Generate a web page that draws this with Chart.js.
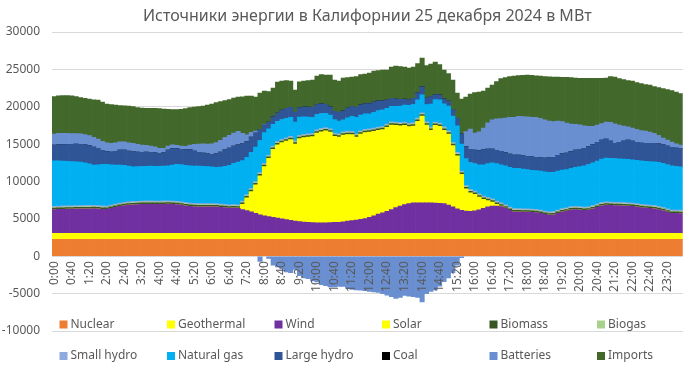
<!DOCTYPE html>
<html><head><meta charset="utf-8">
<script src="https://cdn.jsdelivr.net/npm/chart.js@4"></script>
<style>html,body{margin:0;padding:0;background:#fff}</style>
</head><body>
<canvas id="c" width="700" height="370"></canvas>
<script>
const TITLE = 'Источники энергии в Калифорнии 25 декабря 2024 в МВт';

const timeLabels = [
'0:00','0:10','0:20','0:30','0:40','0:50','1:00','1:10','1:20','1:30','1:40','1:50',
'2:00','2:10','2:20','2:30','2:40','2:50','3:00','3:10','3:20','3:30','3:40','3:50',
'4:00','4:10','4:20','4:30','4:40','4:50','5:00','5:10','5:20','5:30','5:40','5:50',
'6:00','6:10','6:20','6:30','6:40','6:50','7:00','7:10','7:20','7:30','7:40','7:50',
'8:00','8:10','8:20','8:30','8:40','8:50','9:00','9:10','9:20','9:30','9:40','9:50',
'10:00','10:10','10:20','10:30','10:40','10:50','11:00','11:10','11:20','11:30','11:40','11:50',
'12:00','12:10','12:20','12:30','12:40','12:50','13:00','13:10','13:20','13:30','13:40','13:50',
'14:00','14:10','14:20','14:30','14:40','14:50','15:00','15:10','15:20','15:30','15:40','15:50',
'16:00','16:10','16:20','16:30','16:40','16:50','17:00','17:10','17:20','17:30','17:40','17:50',
'18:00','18:10','18:20','18:30','18:40','18:50','19:00','19:10','19:20','19:30','19:40','19:50',
'20:00','20:10','20:20','20:30','20:40','20:50','21:00','21:10','21:20','21:30','21:40','21:50',
'22:00','22:10','22:20','22:30','22:40','22:50','23:00','23:10','23:20','23:30','23:40','23:50'
];

const seriesNames = ['Nuclear','Geothermal','Wind','Solar','Biomass','Biogas','Small hydro','Natural gas','Large hydro','Coal','Batteries','Imports'];
const seriesColors = ['#ED7D31','#FFFF00','#7030A0','#FFFF00','#375623','#A9D18E','#8FAADC','#00B0F0','#2F5597','#000000','#6A8FD1','#43682B'];

const nuclear = [
2250,2250,2250,2250,2250,2250,2250,2250,2250,2250,2250,2250,
2250,2250,2250,2250,2250,2250,2250,2250,2250,2250,2250,2250,
2250,2250,2250,2250,2250,2250,2250,2250,2250,2250,2250,2250,
2250,2250,2250,2250,2250,2250,2250,2250,2250,2250,2250,2250,
2250,2250,2250,2250,2250,2250,2250,2250,2250,2250,2250,2250,
2250,2250,2250,2250,2250,2250,2250,2250,2250,2250,2250,2250,
2250,2250,2250,2250,2250,2250,2250,2250,2250,2250,2250,2250,
2250,2250,2250,2250,2250,2250,2250,2250,2250,2250,2250,2250,
2250,2250,2250,2250,2250,2250,2250,2250,2250,2250,2250,2250,
2250,2250,2250,2250,2250,2250,2250,2250,2250,2250,2250,2250,
2250,2250,2250,2250,2250,2250,2250,2250,2250,2250,2250,2250,
2250,2250,2250,2250,2250,2250,2250,2250,2250,2250,2250,2250];

const geothermal = [
800,800,800,800,800,800,800,800,800,800,800,800,
800,800,800,800,800,800,800,800,800,800,800,800,
800,800,800,800,800,800,800,800,800,800,800,800,
800,800,800,800,800,800,800,800,800,800,800,800,
800,800,800,800,800,800,800,800,800,800,800,800,
800,800,800,800,800,800,800,800,800,800,800,800,
800,800,800,800,800,800,800,800,800,800,800,800,
800,800,800,800,800,800,800,800,800,800,800,800,
800,800,800,800,800,800,800,800,800,800,800,800,
800,800,800,800,800,800,800,800,800,800,800,800,
800,800,800,800,800,800,800,800,800,800,800,800,
800,800,800,800,800,800,800,800,800,800,800,800];

const wind = [
3200,3220,3240,3260,3270,3280,3290,3300,3310,3320,3280,3240,
3220,3350,3500,3620,3720,3780,3830,3870,3900,3910,3910,3900,
3900,3910,3920,3900,3850,3780,3700,3620,3580,3560,3550,3560,
3560,3550,3500,3450,3380,3430,3350,3200,3050,2900,2700,2500,
2350,2250,2150,2050,1950,1850,1750,1650,1580,1520,1480,1450,
1420,1410,1420,1450,1480,1500,1560,1640,1720,1800,1900,2000,
2150,2350,2600,2750,2950,3200,3450,3650,3850,4000,4080,4100,
4100,4090,4080,4060,4030,4010,3800,3550,3300,3100,2980,2950,
3020,3150,3350,3550,3650,3650,3600,3400,3100,2900,2880,2860,
2850,2820,2800,2700,2550,2450,2500,2700,2880,3000,3150,3200,
3150,3100,3130,3300,3500,3700,3780,3760,3740,3720,3700,3650,
3620,3550,3470,3400,3350,3300,3200,3050,2850,2700,2680,2670];

const solar = [
0,0,0,0,0,0,0,0,0,0,0,0,
0,0,0,0,0,0,0,0,0,0,0,0,
0,0,0,0,0,0,0,0,0,0,0,0,
0,0,0,0,0,0,50,700,1700,2700,3800,5200,
6600,7800,9100,9800,10200,10500,10800,10300,11100,11300,11400,11500,
12000,12200,12300,12100,11500,11400,11600,11600,11500,11100,11400,11500,
11400,11300,11200,11150,11250,11300,11000,10750,10600,10300,10300,10900,
11600,10400,9700,10400,10300,9800,9500,8200,7100,4800,3000,2500,
2200,1700,1200,850,550,250,50,0,0,0,0,0,
0,0,0,0,0,0,0,0,0,0,0,0,
0,0,0,0,0,0,0,0,0,0,0,0,
0,0,0,0,0,0,0,0,0,0,0,0];

const biomass = [
200,200,200,200,200,200,200,200,200,200,200,200,
200,200,200,200,200,200,200,200,200,200,200,200,
200,200,200,200,200,200,200,200,200,200,200,200,
200,200,200,200,200,200,200,200,200,200,200,200,
200,200,200,200,200,200,200,200,200,200,200,200,
200,200,200,200,200,200,200,200,200,200,200,200,
200,200,200,200,200,200,200,200,200,200,200,200,
200,200,200,200,200,200,200,200,200,200,200,200,
200,200,200,200,200,200,200,200,200,200,200,200,
200,200,200,200,200,200,200,200,200,200,200,200,
200,200,200,200,200,200,200,200,200,200,200,200,
200,200,200,200,200,200,200,200,200,200,200,200];

const biogas = [
90,90,90,90,90,90,90,90,90,90,90,90,
90,90,90,90,90,90,90,90,90,90,90,90,
90,90,90,90,90,90,90,90,90,90,90,90,
90,90,90,90,90,90,90,90,90,90,90,90,
90,90,90,90,90,90,90,90,90,90,90,90,
90,90,90,90,90,90,90,90,90,90,90,90,
90,90,90,90,90,90,90,90,90,90,90,90,
90,90,90,90,90,90,90,90,90,90,90,90,
90,90,90,90,90,90,90,90,90,90,90,90,
90,90,90,90,90,90,90,90,90,90,90,90,
90,90,90,90,90,90,90,90,90,90,90,90,
90,90,90,90,90,90,90,90,90,90,90,90];

const smallHydro = [
150,150,150,150,150,150,150,150,150,150,150,150,
150,150,150,150,150,150,150,150,150,150,150,150,
150,150,150,150,150,150,150,150,150,150,150,150,
150,150,150,150,150,150,150,150,150,150,150,150,
150,150,150,150,150,150,150,150,150,150,150,150,
150,150,150,150,150,150,150,150,150,150,150,150,
150,150,150,150,150,150,150,150,150,150,150,150,
150,150,150,150,150,150,150,150,150,150,150,150,
150,150,150,150,150,150,150,150,150,150,150,150,
150,150,150,150,150,150,150,150,150,150,150,150,
150,150,150,150,150,150,150,150,150,150,150,150,
150,150,150,150,150,150,150,150,150,150,150,150];

const naturalGas = [
6070,6050,6000,5950,5900,5870,5820,5700,5550,5400,5450,5550,
5580,5400,5200,5100,4950,4800,4650,4620,4620,4640,4650,4650,
4650,4650,4700,4800,4950,4980,4980,5000,5000,5010,5000,4950,
4900,4870,4950,5100,5300,5500,5700,5400,5000,4800,4600,4300,
4100,3500,2900,2700,2650,2600,2550,2500,2450,2350,2250,2150,
2050,2000,1900,1850,1800,1700,1600,1800,2000,2200,2100,2050,
2000,2100,2200,2200,2100,2050,2100,2200,2300,2400,2450,2450,
2400,2300,3100,3000,3100,3100,3300,3500,3550,3600,3600,3600,
3700,3900,4200,4500,4800,5000,5100,5200,5300,5380,5380,5300,
5250,5200,5160,5200,5250,5290,5250,5200,5150,5100,5100,5200,
5350,5500,5650,5700,5750,5800,5850,5850,5850,5830,5820,5810,
5800,5800,5800,5800,5820,5850,5880,5900,5920,5900,5850,5800];

const largeHydro = [
2100,2150,2200,2250,2300,2350,2380,2400,2450,2400,2200,1900,
1700,1700,1850,2000,2050,2000,2000,1950,1900,1900,1850,1800,
1700,1800,2100,2200,2100,2050,2100,2150,2000,1850,1750,1700,
1700,1800,2000,2200,2300,2320,2320,2250,2100,2050,1900,1500,
1000,900,1000,1100,1250,1340,1340,1300,1260,1300,1330,1340,
1340,1300,1200,1110,1110,1150,1200,1280,1340,1340,1360,1380,
1380,1380,1300,1200,1110,1100,1000,900,800,710,800,950,
1070,880,1000,670,670,670,670,900,1000,1340,1600,1780,
1780,1900,2010,1950,1850,1780,1780,1780,1780,1780,1780,1780,
1780,1780,1790,1790,1850,1950,2010,2100,2200,2220,2250,2300,
2320,2350,2400,2450,2500,2540,2540,2300,2040,2200,2400,2580,
2500,2400,2370,2400,2450,2480,2480,2480,2470,2470,2460,2460];

const coal = [
0,0,0,0,0,0,0,0,0,0,0,0,
0,0,0,0,0,0,0,0,0,0,0,0,
0,0,0,0,0,0,0,0,0,0,0,0,
0,0,0,0,0,0,0,0,0,0,0,0,
0,0,0,0,0,0,0,0,0,0,0,0,
0,0,0,0,0,0,0,0,0,0,0,0,
0,0,0,0,0,0,0,0,0,0,0,0,
0,0,0,0,0,0,0,0,0,0,0,0,
0,0,0,0,0,0,0,0,0,0,0,0,
0,0,0,0,0,0,0,0,0,0,0,0,
0,0,0,0,0,0,0,0,0,0,0,0,
0,0,0,0,0,0,0,0,0,0,0,0];

const batteries = [
1500,1550,1520,1480,1450,1420,1400,1380,1340,1300,1250,1200,
1180,1150,1120,1110,1100,1100,1120,1050,950,900,850,800,
700,600,540,500,450,440,450,600,900,1100,1250,1300,
1400,1500,1570,1650,1700,1750,1790,1400,900,650,250,-700,
100,-300,-1200,-1430,-1700,-2100,-2200,-1750,-2600,-2900,-3000,-3300,
-3450,-3800,-3950,-4100,-4100,-4050,-4020,-4300,-4450,-4500,-4550,-4600,
-4700,-4780,-4850,-5000,-5200,-5400,-5650,-5500,-5250,-5350,-5400,-5500,
-6100,-5000,-4700,-4500,-4000,-3400,-2900,-2200,-1200,-200,2000,2680,
2300,2500,2890,3500,3920,4200,4400,4600,4900,5050,5180,5250,
5280,5300,5320,5250,5100,4900,4750,4590,4300,4000,3700,3450,
3280,3000,2700,2450,2300,2210,2300,2500,2580,2300,2000,1780,
1750,1720,1680,1650,1500,1300,1100,900,800,700,550,440];

const imports = [
5000,5000,5040,5050,5040,4950,4840,4850,4880,5020,5220,5240,
5180,5200,5060,4830,4800,4920,4930,4900,4960,4940,5030,5140,
5310,5230,4890,4730,4780,4900,5030,5020,4980,5010,5050,5220,
5300,5340,5180,4930,4790,4670,4590,4890,5180,4830,4550,4840,
4450,4090,3860,4160,3890,3720,3500,2990,3460,3470,3550,3640,
3800,3900,3930,4240,4190,4190,4380,4090,3920,4110,4050,3950,
4080,4150,4050,4120,4010,4170,4400,4380,4270,4270,4190,3890,
3850,4350,4340,4360,4050,3840,3680,3930,3390,4690,4620,4690,
5400,5320,4950,4660,4640,5000,5350,5430,5470,5500,5460,5530,
5590,5610,5580,5670,5800,5930,5970,5890,5920,6120,6200,6190,
6200,6350,6420,6400,6250,6050,5870,6140,6270,6230,6220,6190,
6270,6270,6290,6220,6290,6280,6410,6610,6760,6900,6930,6900];

const yTicks = [-10000,-5000,0,5000,10000,15000,20000,25000,30000];

const seriesData = [nuclear, geothermal, wind, solar, biomass, biogas, smallHydro, naturalGas, largeHydro, coal, batteries, imports];

const FONT = 'Noto Sans';
const TEXT = '#595959';

const excelLegend = {
  id: 'excelLegend',
  afterDraw(chart) {
    const ctx = chart.ctx;
    ctx.save();
    ctx.font = '12px "' + FONT + '"';
    ctx.textBaseline = 'middle';
    ctx.textAlign = 'left';
    chart.data.datasets.forEach((ds, i) => {
      const row = Math.floor(i / 6), col = i % 6;
      const x = 59.5 + col * 107.5;
      const y = 324.5 + row * 31.5;
      ctx.fillStyle = ds.backgroundColor;
      ctx.fillRect(x, y - 4, 8, 8);
      ctx.fillStyle = TEXT;
      ctx.fillText(ds.label, x + 11, y);
    });
    ctx.restore();
  }
};

new Chart(document.getElementById('c'), {
  type: 'bar',
  data: {
    labels: timeLabels,
    datasets: seriesNames.map((name, i) => ({
      label: name,
      data: seriesData[i],
      backgroundColor: seriesColors[i],
      borderWidth: 0,
      barPercentage: 1,
      categoryPercentage: 1
    }))
  },
  plugins: [excelLegend],
  options: {
    responsive: false,
    animation: false,
    layout: { padding: { left: 0, right: 2, top: 0, bottom: 39 } },
    plugins: {
      legend: { display: false },
      tooltip: { enabled: false },
      title: {
        display: true, text: TITLE, color: TEXT, fullSize: false,
        font: { family: FONT, size: 16, weight: 'normal' },
        padding: { top: 7, bottom: 5.8 }
      }
    },
    scales: {
      x: {
        stacked: true,
        position: { y: 0 },
        grid: { display: false, drawTicks: false },
        border: { display: false },
        ticks: {
          z: 1,
          autoSkip: false, maxRotation: 90, minRotation: 90, padding: 5,
          color: TEXT, font: { family: FONT, size: 12 },
          callback: function (v, i) { return i % 4 === 0 ? this.getLabelForValue(v) : ''; }
        }
      },
      y: {
        stacked: true,
        min: yTicks[0], max: yTicks[yTicks.length - 1],
        afterBuildTicks: s => { s.ticks = yTicks.map(v => ({ value: v })); },
        afterFit: s => { s.width = 52; },
        grid: { color: '#D9D9D9', drawTicks: false },
        border: { display: false },
        ticks: { padding: 12, color: TEXT, font: { family: FONT, size: 12 }, callback: v => String(v) }
      }
    }
  }
});
</script>
</body></html>
